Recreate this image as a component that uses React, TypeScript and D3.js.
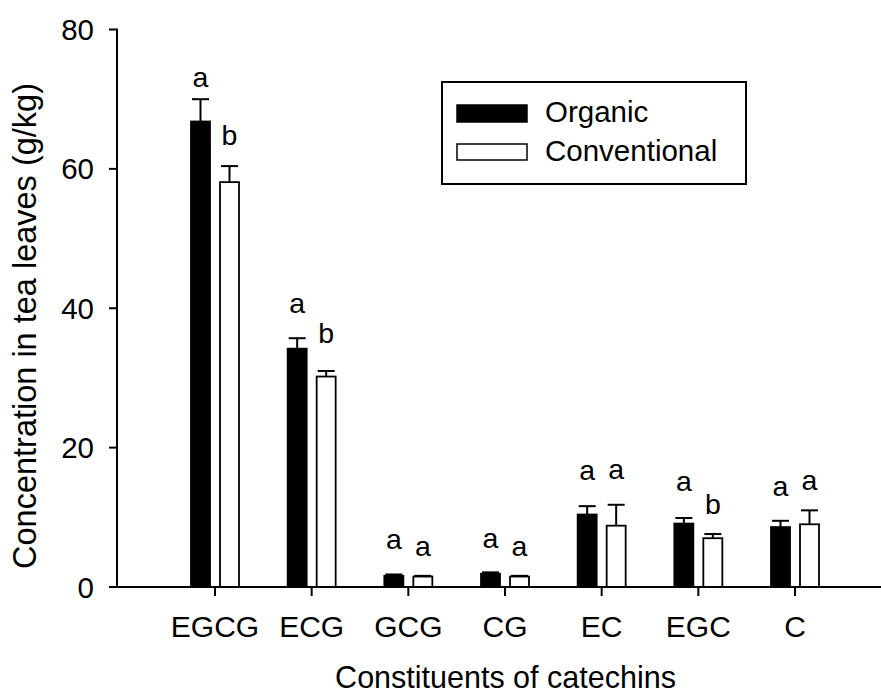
import React from "react";
import * as d3 from "d3";

const categories = ["EGCG", "ECG", "GCG", "CG", "EC", "EGC", "C"];
const organic = [66.8, 34.2, 1.6, 1.9, 10.4, 9.1, 8.6];
const organicErr = [3.2, 1.5, 0.2, 0.2, 1.2, 0.8, 0.9];
const conventional = [58.1, 30.2, 1.5, 1.5, 8.8, 7.0, 9.0];
const conventionalErr = [2.3, 0.8, 0.1, 0.1, 3.0, 0.6, 2.0];
const organicLetters = ["a", "a", "a", "a", "a", "a", "a"];
const conventionalLetters = ["b", "b", "a", "a", "a", "b", "a"];
const organicLetterLevel = [71.7, 39.3, 5.45, 5.55, 15.35, 13.8, 13.1];
const conventionalLetterLevel = [63.4, 35.0, 4.45, 4.45, 15.5, 10.5, 13.9];
const yTicks = [0, 20, 40, 60, 80];
const seriesNames = ["Organic", "Conventional"];

const W = 881;
const H = 693;
const FONT = "'Liberation Sans', Arial, sans-serif";

export default function App() {
  const x0 = 117;
  const y = d3.scaleLinear().domain([0, 80]).range([587, 29.5]);
  const x = d3.scalePoint<string>().domain(categories).range([215, 795]);
  const barW = 19;
  const gap = 5;

  const series = [
    { vals: organic, err: organicErr, letters: organicLetters, lv: organicLetterLevel, fill: "#000", off: -gap - barW },
    { vals: conventional, err: conventionalErr, letters: conventionalLetters, lv: conventionalLetterLevel, fill: "#fff", off: gap },
  ];

  return (
    <svg width={W} height={H} style={{ position: "absolute", left: 0, top: 0, background: "#fff" }} fontFamily={FONT}>
      <rect x={0} y={0} width={W} height={H} fill="#fff" />
      {/* bars */}
      {series.map((s, si) =>
        categories.map((c, i) => {
          const cx = x(c)!;
          const bx = cx + s.off;
          const top = y(s.vals[i]);
          const cap = y(s.vals[i] + s.err[i]);
          const mid = bx + barW / 2;
          return (
            <g key={`${si}-${i}`}>
              <line x1={mid} x2={mid} y1={top} y2={cap} stroke="#000" strokeWidth={2} />
              <line x1={mid - 8.5} x2={mid + 8.5} y1={cap} y2={cap} stroke="#000" strokeWidth={2} />
              <rect x={bx} y={top} width={barW} height={y(0) - top} fill={s.fill} stroke="#000" strokeWidth={1.8} />
              <text x={mid} y={y(s.lv[i])} textAnchor="middle" fontSize={28.5}>
                {s.letters[i]}
              </text>
            </g>
          );
        })
      )}
      {/* y axis */}
      <line x1={x0} x2={x0} y1={y(80) - 1} y2={y(0) + 1} stroke="#000" strokeWidth={2} />
      {yTicks.map((t) => (
        <g key={t}>
          <line x1={x0 - 8} x2={x0} y1={y(t)} y2={y(t)} stroke="#000" strokeWidth={2} />
          <text x={94} y={y(t)} dy="0.36em" textAnchor="end" fontSize={29.5}>
            {t}
          </text>
        </g>
      ))}
      {/* x axis */}
      <line x1={x0 - 8} x2={W} y1={y(0)} y2={y(0)} stroke="#000" strokeWidth={2} />
      {categories.map((c) => (
        <g key={c}>
          <line x1={x(c)!} x2={x(c)!} y1={y(0)} y2={y(0) + 9} stroke="#000" strokeWidth={2} />
          <text x={x(c)!} y={637} textAnchor="middle" fontSize={30}>
            {c}
          </text>
        </g>
      ))}
      {/* axis titles */}
      <text x={505.5} y={688} textAnchor="middle" fontSize={30.5}>
        Constituents of catechins
      </text>
      <text transform={`translate(36,326) rotate(-90)`} textAnchor="middle" fontSize={32.5}>
        Concentration in tea leaves (g/kg)
      </text>
      {/* legend */}
      <rect x={442} y={82} width={304} height={102} fill="#fff" stroke="#000" strokeWidth={2} />
      <rect x={457} y={105} width={70} height={17} fill="#000" stroke="#000" strokeWidth={1.5} />
      <rect x={457} y={144} width={70} height={16} fill="#fff" stroke="#000" strokeWidth={1.5} />
      <text x={545} y={122} fontSize={29.5}>{seriesNames[0]}</text>
      <text x={545} y={161} fontSize={29.5}>{seriesNames[1]}</text>
    </svg>
  );
}
